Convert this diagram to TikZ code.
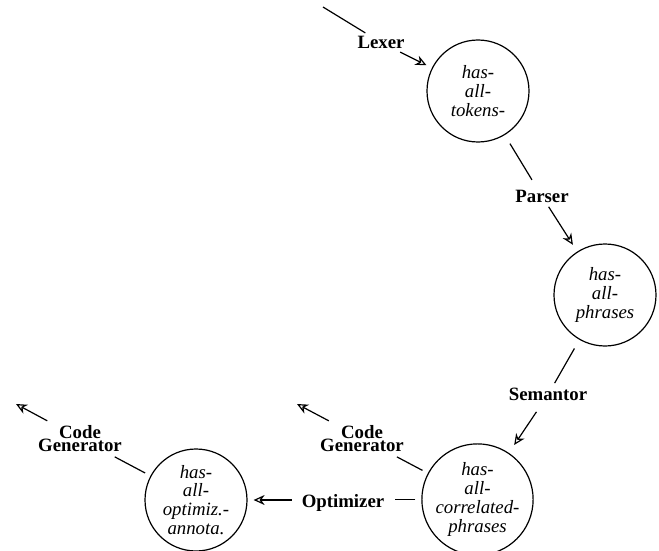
\documentclass[tikz,border=0pt]{standalone}
\usepackage{fontspec}
\setmainfont{Liberation Serif}
\usetikzlibrary{arrows.meta}
\newcommand\mylabfont{\fontsize{18.8}{13}\selectfont\lineskiplimit=-30pt\relax\bfseries}
\newcommand\mystatefont{\fontsize{18.8}{18.8}\selectfont\itshape}
\begin{document}
\begin{tikzpicture}[x=1pt,y=-1pt,
  state/.style={circle,draw,line width=1.2pt,minimum size=102pt,inner sep=0pt,align=center,
    font=\mystatefont},
  lab/.style={inner sep=0pt,align=center,font=\mylabfont},
  edge/.style={line width=1.2pt},
  arr/.style={edge,-{Stealth[open,length=11pt,width=10pt,inset=3.5pt]}}]
\useasboundingbox (0,0) rectangle (659,551);
% states
\node[state] (c1) at (478,91) {has-\\all-\\tokens-};
\node[state] (c2) at (605,295) {has-\\all-\\phrases};
\node[state,minimum size=103pt] (c3) at (477.5,499.5) {has-\\all-\\correlated-\\phrases};
\node[state] (c4) at (196,500) {has-\\all-\\optimiz.-\\annota.};
% labels
\coordinate (s0) at (323,7);
\node[lab] (l1) at (381,42.5) {Lexer};
\node[lab] (l2) at (542,196.4) {Parser};
\node[lab] (l3) at (548,394.7) {Semantor};
\node[lab] (l4) at (343,502.5) {Optimizer};
\node[lab] (l5) at (362,438.4) {Code\\Generator};
\node[lab] (l6) at (80,438.4) {Code\\Generator};
\coordinate (e5) at (297,404);
\coordinate (e6) at (16,404);
% connectors
\draw[edge,shorten >=6pt] (s0) -- (l1);
\draw[arr,shorten <=7pt,shorten >=6pt] (l1) -- (c1);
\draw[edge,shorten <=10pt,shorten >=11.8pt] (c1) -- (l2);
\draw[arr,shorten <=4.7pt,shorten >=8pt] (l2) -- (c2);
\draw[edge,shorten <=10pt,shorten >=5.8pt] (c2) -- (l3);
\draw[arr,shorten <=12.8pt,shorten >=9.5pt] (l3) -- (c3);
\draw[edge,shorten <=6pt,shorten >=11pt] (c3) -- (c3 -| l4.east);
\draw[arr,shorten <=10pt,shorten >=6pt] (l4.west |- c4) -- (c4);
\draw[edge,shorten <=6pt,shorten >=11pt] (c3) -- (l5);
\draw[arr,shorten <=9pt] (l5) -- (e5);
\draw[edge,shorten <=6pt,shorten >=11pt] (c4) -- (l6);
\draw[arr,shorten <=9pt] (l6) -- (e6);
\end{tikzpicture}
\end{document}
